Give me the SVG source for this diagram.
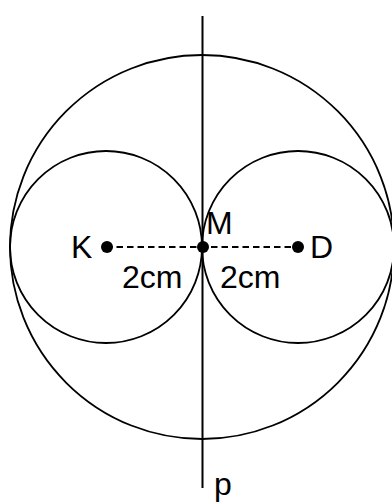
<svg xmlns="http://www.w3.org/2000/svg" width="392" height="504" viewBox="0 0 392 504">
<style>
.c{fill:none;stroke:#000;stroke-width:1.8}
.t{font-family:"Liberation Sans",Arial,sans-serif;font-size:32px;fill:#000}
</style>
<rect width="392" height="504" fill="#fff"/>
<g id="big-circle"><circle class="c" cx="202" cy="247" r="192"/></g>
<g id="circle-K"><circle class="c" cx="106" cy="247" r="96"/></g>
<g id="circle-D"><circle class="c" cx="298" cy="247" r="96"/></g>
<g id="connectors">
<line x1="202.5" y1="16" x2="202.5" y2="488" stroke="#000" stroke-width="2"/>
<line x1="106" y1="247" x2="298" y2="247" stroke="#000" stroke-width="1.8" stroke-dasharray="6.5,4"/>
</g>
<g id="K"><circle cx="107" cy="247" r="6"/><text class="t" x="71" y="258">K</text></g>
<g id="M"><circle cx="203" cy="247" r="6"/><text class="t" x="206" y="234">M</text></g>
<g id="D"><circle cx="298" cy="247" r="6"/><text class="t" x="310" y="258">D</text></g>
<g id="labels">
<text class="t" x="122" y="288">2cm</text>
<text class="t" x="220" y="288">2cm</text>
<text class="t" x="214" y="495">p</text>
</g>
</svg>
